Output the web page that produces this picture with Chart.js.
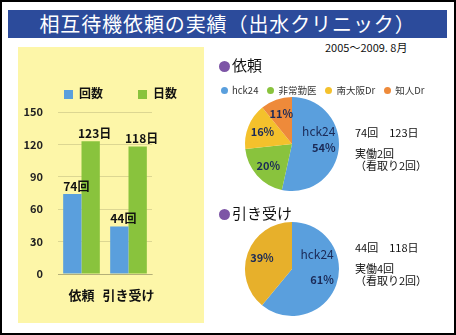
<!DOCTYPE html>
<html>
<head>
<meta charset="utf-8">
<script src="https://cdn.jsdelivr.net/npm/chart.js@4.4.0/dist/chart.umd.min.js"></script>
<style>
html, body { margin: 0; padding: 0; background: #fff; }
#page { position: relative; width: 456px; height: 335px; overflow: hidden; font-family: "Noto Sans CJK JP", sans-serif; color: #111; }
#frame { position: absolute; left: 0; top: 0; width: 456px; height: 335px; box-sizing: border-box; border: 2px solid #000; z-index: 10; }
.abs { position: absolute; }
#title { left: 8px; top: 10px; width: 439px; height: 28px; background: #2c4b9b; color: #fff; font-size: 20px; line-height: 28px; text-align: center; letter-spacing: 0.9px; }
#panel { left: 18px; top: 47px; width: 186px; height: 276px; background: #fdf6a8; }
#barCanvas { left: 18px; top: 47px; }
#barLegend { left: 64px; top: 85px; display: flex; gap: 35px; font-size: 12px; font-weight: bold; line-height: 16px; }
#barLegend span.box { display: inline-block; width: 9px; height: 9px; margin-right: 6px; vertical-align: -1px; }
#date { left: 325px; top: 39px; font-size: 11px; line-height: 16px; }
.head { font-size: 15px; line-height: 18px; }
.head span.dot { display: inline-block; width: 11px; height: 11px; border-radius: 50%; background: #7d55a6; margin-right: 2px; vertical-align: -1px; }
#pieLegend { left: 221px; top: 83px; display: flex; gap: 9px; font-size: 9.5px; line-height: 14px; color: #333; }
#pieLegend span.dot { display: inline-block; width: 7px; height: 7px; border-radius: 50%; margin-right: 4px; vertical-align: 0px; }
.note { font-size: 11px; line-height: 12px; }
</style>
</head>
<body>
<div id="page">
  <div id="title" class="abs">相互待機依頼の実績（出水クリニック）</div>
  <div id="panel" class="abs"></div>
  <canvas id="barCanvas" class="abs" width="186" height="276"></canvas>
  <div id="barLegend" class="abs"></div>
  <div id="date" class="abs">2005～2009. 8月</div>

  <div class="abs head" style="left:219px;top:56px;"><span class="dot"></span>依頼</div>
  <div id="pieLegend" class="abs"></div>
  <canvas id="pie1" class="abs" style="left:242px;top:94px;" width="100" height="100"></canvas>
  <div class="abs note" style="left:355px;top:126px;">74回　123日</div>
  <div class="abs note" style="left:355px;top:147px;">実働2回<br>（看取り2回）</div>

  <div class="abs head" style="left:219px;top:204px;"><span class="dot"></span>引き受け</div>
  <canvas id="pie2" class="abs" style="left:242px;top:219px;" width="100" height="100"></canvas>
  <div class="abs note" style="left:355px;top:241px;">44回　118日</div>
  <div class="abs note" style="left:355px;top:262px;">実働4回<br>（看取り2回）</div>
  <div id="frame"></div>
</div>
<script>
// bar chart data
const barCategories = ['依頼', '引き受け'];
const barSeries = ['回数', '日数'];
const countValues = [74, 44];
const dayValues = [123, 118];
const barUnits = ['回', '日'];
const barColors = ['#5a9fdd', '#89c33d'];

// pie data
const pieLabels = ['hck24', '非常勤医', '南大阪Dr', '知人Dr'];
const requestShares = [54, 20, 16, 11];
const pieColors = ['#5a9fdd', '#89c33d', '#f4c12c', '#ee8a3a'];
const acceptLabels = ['hck24', 'その他'];
const acceptShares = [61, 39];
const acceptColors = ['#5a9fdd', '#e7b02b'];

const FONT = '"Noto Sans CJK JP", sans-serif';

// html legends built from the arrays
document.getElementById('barLegend').innerHTML = barSeries.map((s, i) =>
  `<div><span class="box" style="background:${barColors[i]}"></span>${s}</div>`).join('');
document.getElementById('pieLegend').innerHTML = pieLabels.map((s, i) =>
  `<div><span class="dot" style="background:${pieColors[i]}"></span>${s}</div>`).join('');

const barValueLabels = {
  id: 'barValueLabels',
  afterDatasetsDraw(chart) {
    const { ctx } = chart;
    ctx.save();
    ctx.fillStyle = '#111';
    ctx.font = 'bold 12px ' + FONT;
    ctx.textAlign = 'center';
    ctx.textBaseline = 'bottom';
    chart.data.datasets.forEach((ds, d) => {
      chart.getDatasetMeta(d).data.forEach((bar, i) => {
        ctx.fillText(ds.data[i] + barUnits[d], bar.x + 4, bar.y - 2);
      });
    });
    ctx.restore();
  }
};

new Chart(document.getElementById('barCanvas'), {
  type: 'bar',
  data: {
    labels: barCategories,
    datasets: [
      { label: barSeries[0], data: countValues, backgroundColor: barColors[0] },
      { label: barSeries[1], data: dayValues, backgroundColor: barColors[1] }
    ]
  },
  options: {
    responsive: false,
    animation: false,
    devicePixelRatio: 1,
    categoryPercentage: 0.78,
    barPercentage: 1,
    layout: { padding: { top: 65, right: 52, left: 0, bottom: 0 } },
    plugins: { legend: { display: false }, tooltip: { enabled: false } },
    scales: {
      y: {
        min: 0, max: 150,
        afterFit(scale) { scale.width = 40; },
        ticks: { stepSize: 30, padding: 15, color: '#222', font: { family: FONT, size: 11, weight: 'bold' } },
        grid: { color: 'rgba(0,0,0,0.13)', drawTicks: false },
        border: { display: false }
      },
      x: {
        afterFit(scale) { scale.height = 49; },
        ticks: { padding: 5, maxRotation: 0, minRotation: 0, autoSkip: false, color: '#111', font: { family: FONT, size: 13, weight: 'bold' } },
        grid: { display: false },
        border: { color: 'rgba(0,0,0,0.18)' }
      }
    }
  },
  plugins: [barValueLabels]
});

const sliceLabels = {
  id: 'sliceLabels',
  afterDatasetsDraw(chart, args, opts) {
    const { ctx } = chart;
    const ds = chart.data.datasets[0];
    ctx.save();
    ctx.fillStyle = '#1b2a57';
    ctx.textAlign = 'center';
    ctx.textBaseline = 'middle';
    chart.getDatasetMeta(0).data.forEach((arc, i) => {
      const mid = (arc.startAngle + arc.endAngle) / 2;
      const r = arc.outerRadius * 0.68;
      const x = arc.x + Math.cos(mid) * r;
      const y = arc.y + Math.sin(mid) * r;
      ctx.font = 'bold 11px ' + FONT;
      ctx.fillText(ds.data[i] + '%', x, y);
      if (i === 0) {
        ctx.font = '12px ' + FONT;
        ctx.fillText(chart.data.labels[i], x - 5, y - opts.nameGap);
      }
    });
    ctx.restore();
  }
};

function makePie(id, labels, values, colors, nameGap) {
  new Chart(document.getElementById(id), {
    type: 'pie',
    data: { labels, datasets: [{ data: values, backgroundColor: colors, borderWidth: 0 }] },
    options: {
      responsive: false,
      animation: false,
      devicePixelRatio: 1,
      layout: { padding: 3 },
      plugins: { legend: { display: false }, tooltip: { enabled: false }, sliceLabels: { nameGap } }
    },
    plugins: [sliceLabels]
  });
}
makePie('pie1', pieLabels, requestShares, pieColors, 16);
makePie('pie2', acceptLabels, acceptShares, acceptColors, 25);
</script>
</body>
</html>
